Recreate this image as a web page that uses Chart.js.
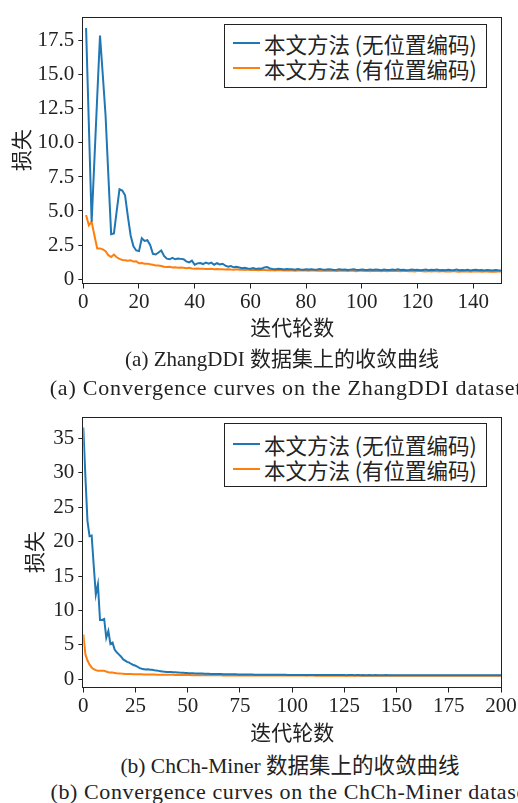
<!DOCTYPE html>
<html>
<head>
<meta charset="utf-8">
<script src="https://cdn.jsdelivr.net/npm/chart.js@4.4.1/dist/chart.umd.min.js"></script>
<style>
  html, body { margin: 0; padding: 0; background: #fff; }
  body { width: 518px; height: 803px; position: relative; overflow: hidden; }
  canvas { position: absolute; left: 0; }
  .legend { position: absolute; border: 1px solid #222; background: #fff; box-sizing: border-box; }
  .row { position: absolute; left: 0; display: flex; align-items: center; height: 24px;
         font-family: 'Noto Sans CJK SC', sans-serif; font-size: 21.5px; color: #222; white-space: nowrap; }
  .row span.swatch { display: inline-block; width: 27px; height: 2px; margin-left: 8px; margin-right: 4px; }
  .cap { position: absolute; transform: translate(-50%, -50%); white-space: nowrap;
         font-family: 'Liberation Serif', 'Noto Sans CJK SC', serif; font-size: 21px; color: #222; }
  .cap.en { font-size: 22px; letter-spacing: 0.8px; }
</style>
</head>
<body>
<canvas id="chartA" width="518" height="345" style="top:0px"></canvas>
<canvas id="chartB" width="518" height="345" style="top:400px"></canvas>

<div class="legend" style="left:224px; top:24px; width:263px; height:64px">
  <div class="row" style="top:6px"><span class="swatch" style="background:#1f77b4"></span>本文方法 (无位置编码)</div>
  <div class="row" style="top:31px"><span class="swatch" style="background:#ff7f0e"></span>本文方法 (有位置编码)</div>
</div>
<div class="legend" style="left:224px; top:423px; width:263px; height:64px">
  <div class="row" style="top:8px"><span class="swatch" style="background:#1f77b4"></span>本文方法 (无位置编码)</div>
  <div class="row" style="top:33px"><span class="swatch" style="background:#ff7f0e"></span>本文方法 (有位置编码)</div>
</div>

<div class="cap" style="left:282px; top:357px">(a) ZhangDDI 数据集上的收敛曲线</div>
<div class="cap en" style="left:286px; top:388px">(a) Convergence curves on the ZhangDDI dataset</div>
<div class="cap" style="left:290px; top:763px; font-size:21.5px">(b) ChCh-Miner 数据集上的收敛曲线</div>
<div class="cap en" style="left:292px; top:792px; letter-spacing:0.6px">(b) Convergence curves on the ChCh-Miner dataset</div>

<script>
// ---- data ----
const seriesNames = ['本文方法 (无位置编码)', '本文方法 (有位置编码)'];
const xTitle = '迭代轮数';
const yTitle = '损失';

// ZhangDDI, epochs 1..150
const zhangStart = 1;
const zhangNoPos = [
  18.45, 11.3, 4.2, 8.8, 13.4, 17.9, 15.0, 12.0, 7.6, 3.3,
  3.35, 5.0, 6.6, 6.5, 6.15, 4.6, 3.2, 2.4, 2.1, 2.05,
  3.0, 2.8, 2.85, 2.5, 1.85, 1.8, 1.95, 2.1, 1.7, 1.5,
  1.45, 1.55, 1.45, 1.5, 1.48, 1.45, 1.3, 1.22, 1.35, 1.05,
  1.15, 1.18, 1.1, 1.2, 1.12, 1.2, 1.05, 1.16, 1.07, 1.12,
  0.98, 0.9, 0.95, 0.86, 0.9, 0.85, 0.8, 0.83, 0.78, 0.76,
  0.8, 0.74, 0.78, 0.76, 0.85, 0.88, 0.78, 0.74, 0.72, 0.76,
  0.73, 0.7, 0.74, 0.71, 0.72, 0.69, 0.73, 0.7, 0.68, 0.72,
  0.7, 0.71, 0.68, 0.7, 0.73, 0.69, 0.68, 0.71, 0.7, 0.67,
  0.69, 0.72, 0.68, 0.7, 0.67, 0.69, 0.71, 0.68, 0.66, 0.7,
  0.68, 0.67, 0.7, 0.66, 0.69, 0.68, 0.65, 0.7, 0.67, 0.66,
  0.69, 0.67, 0.71, 0.66, 0.68, 0.65, 0.67, 0.7, 0.66, 0.68,
  0.65, 0.67, 0.69, 0.64, 0.68, 0.66, 0.7, 0.65, 0.67, 0.64,
  0.68, 0.66, 0.65, 0.69, 0.64, 0.67, 0.65, 0.68, 0.63, 0.66,
  0.68, 0.64, 0.66, 0.63, 0.67, 0.65, 0.62, 0.66, 0.64, 0.63
];
const zhangPos = [
  4.7, 3.95, 4.2, 3.2, 2.25, 2.25, 2.18, 2.05, 1.75, 1.62,
  1.8, 1.6, 1.48, 1.4, 1.38, 1.35, 1.38, 1.28, 1.3, 1.16,
  1.18, 1.12, 1.13, 1.08, 1.05, 1.0, 1.0, 0.96, 0.9, 0.88,
  0.9, 0.85, 0.86, 0.82, 0.84, 0.83, 0.8, 0.82, 0.78, 0.76,
  0.78, 0.75, 0.76, 0.74, 0.73, 0.75, 0.72, 0.74, 0.71, 0.72,
  0.7, 0.72, 0.7, 0.69, 0.71, 0.68, 0.7, 0.67, 0.69, 0.66,
  0.68, 0.67, 0.65, 0.68, 0.66, 0.64, 0.67, 0.65, 0.63, 0.66,
  0.64, 0.62, 0.65, 0.63, 0.64, 0.61, 0.63, 0.65, 0.62, 0.63,
  0.61, 0.64, 0.62, 0.6, 0.63, 0.61, 0.62, 0.6, 0.63, 0.61,
  0.59, 0.62, 0.6, 0.61, 0.59, 0.62, 0.6, 0.58, 0.61, 0.6,
  0.59, 0.61, 0.58, 0.6, 0.59, 0.61, 0.58, 0.6, 0.57, 0.59,
  0.6, 0.58, 0.59, 0.57, 0.6, 0.58, 0.57, 0.59, 0.56, 0.58,
  0.59, 0.57, 0.55, 0.58, 0.56, 0.59, 0.57, 0.55, 0.58, 0.56,
  0.57, 0.55, 0.58, 0.56, 0.54, 0.57, 0.55, 0.57, 0.54, 0.56,
  0.55, 0.57, 0.54, 0.56, 0.55, 0.53, 0.56, 0.54, 0.55, 0.56
];
const zhangXTicks = [0, 20, 40, 60, 80, 100, 120, 140];
const zhangYTicks = [0, 2.5, 5, 7.5, 10, 12.5, 15, 17.5];

// ChCh-Miner, epochs 0..200
const chchStart = 0;
const chchNoPos = [
  36.6, 29.5, 23.0, 20.8, 20.9, 16.5, 12.3, 13.8, 8.6, 8.6,
  8.75, 6.0, 7.0, 5.1, 5.3, 4.3, 3.9, 3.6, 3.3, 2.9,
  2.7, 2.5, 2.4, 2.2, 2.05, 1.95, 1.8, 1.6, 1.5, 1.45,
  1.4, 1.42, 1.35, 1.36, 1.3, 1.25, 1.2, 1.15, 1.1, 1.08,
  1.05, 1.04, 1.02, 1.0, 0.99, 0.97, 0.95, 0.94, 0.92, 0.9,
  0.88, 0.87, 0.86, 0.84, 0.83, 0.82, 0.81, 0.8, 0.79, 0.78,
  0.77, 0.76, 0.75, 0.75, 0.74, 0.73, 0.73, 0.72, 0.72, 0.71,
  0.7, 0.7, 0.69, 0.69, 0.68, 0.68, 0.67, 0.67, 0.67, 0.66,
  0.66, 0.66, 0.65, 0.65, 0.65, 0.64, 0.64, 0.64, 0.64, 0.63,
  0.63, 0.63, 0.63, 0.62, 0.62, 0.62, 0.62, 0.62, 0.61, 0.61,
  0.61, 0.61, 0.61, 0.61, 0.6, 0.61, 0.6, 0.6, 0.6, 0.6,
  0.6, 0.6, 0.6, 0.59, 0.6, 0.6, 0.59, 0.6, 0.59, 0.59,
  0.59, 0.6, 0.59, 0.59, 0.59, 0.59, 0.58, 0.59, 0.59, 0.59,
  0.58, 0.59, 0.59, 0.58, 0.59, 0.58, 0.58, 0.59, 0.58, 0.58,
  0.59, 0.58, 0.58, 0.58, 0.58, 0.59, 0.58, 0.58, 0.58, 0.57,
  0.58, 0.58, 0.58, 0.57, 0.58, 0.58, 0.58, 0.57, 0.58, 0.58,
  0.57, 0.58, 0.58, 0.57, 0.58, 0.57, 0.58, 0.57, 0.58, 0.57,
  0.57, 0.58, 0.57, 0.57, 0.58, 0.57, 0.57, 0.57, 0.58, 0.57,
  0.57, 0.57, 0.57, 0.58, 0.57, 0.57, 0.57, 0.56, 0.57, 0.57,
  0.57, 0.57, 0.56, 0.57, 0.57, 0.57, 0.56, 0.57, 0.57, 0.56,
  0.57
];
const chchPos = [
  6.5, 3.6, 2.7, 2.1, 1.7, 1.45, 1.3, 1.22, 1.2, 1.2,
  1.22, 1.1, 1.0, 0.98, 0.95, 0.9, 0.85, 0.83, 0.8, 0.78,
  0.76, 0.75, 0.74, 0.73, 0.72, 0.71, 0.7, 0.7, 0.69, 0.68,
  0.68, 0.67, 0.67, 0.66, 0.66, 0.65, 0.65, 0.64, 0.64, 0.63,
  0.63, 0.62, 0.62, 0.62, 0.61, 0.61, 0.6, 0.6, 0.6, 0.59,
  0.59, 0.59, 0.58, 0.58, 0.58, 0.57, 0.57, 0.57, 0.56, 0.56,
  0.56, 0.56, 0.55, 0.55, 0.55, 0.55, 0.55, 0.54, 0.54, 0.54,
  0.54, 0.54, 0.54, 0.53, 0.53, 0.53, 0.53, 0.53, 0.53, 0.53,
  0.53, 0.52, 0.52, 0.52, 0.52, 0.52, 0.52, 0.52, 0.52, 0.52,
  0.52, 0.52, 0.51, 0.52, 0.51, 0.51, 0.52, 0.51, 0.51, 0.51,
  0.51, 0.51, 0.51, 0.51, 0.51, 0.51, 0.51, 0.5, 0.51, 0.51,
  0.51, 0.5, 0.51, 0.5, 0.51, 0.5, 0.5, 0.51, 0.5, 0.5,
  0.5, 0.5, 0.5, 0.51, 0.5, 0.5, 0.5, 0.5, 0.5, 0.5,
  0.5, 0.5, 0.49, 0.5, 0.5, 0.5, 0.5, 0.49, 0.5, 0.5,
  0.5, 0.49, 0.5, 0.5, 0.49, 0.5, 0.49, 0.5, 0.49, 0.5,
  0.49, 0.5, 0.49, 0.49, 0.5, 0.49, 0.49, 0.49, 0.5, 0.49,
  0.49, 0.49, 0.49, 0.49, 0.49, 0.5, 0.49, 0.49, 0.49, 0.49,
  0.49, 0.49, 0.49, 0.48, 0.49, 0.49, 0.49, 0.49, 0.48, 0.49,
  0.49, 0.49, 0.48, 0.49, 0.49, 0.48, 0.49, 0.49, 0.48, 0.49,
  0.48, 0.49, 0.49, 0.48, 0.49, 0.48, 0.49, 0.48, 0.48, 0.49,
  0.48
];
const chchXTicks = [0, 25, 50, 75, 100, 125, 150, 175, 200];
const chchYTicks = [0, 5, 10, 15, 20, 25, 30, 35];

const colors = ['#1f77b4', '#ff7f0e'];
const ink = '#222';
const serif = '"Liberation Serif", serif';
const cjk = '"Noto Sans CJK SC", sans-serif';

function toPoints(values, start) {
  return values.map((v, i) => ({ x: start + i, y: v }));
}

// matplotlib-like frame round the plot area
const framePlugin = {
  id: 'frame',
  afterDraw(chart) {
    const a = chart.chartArea;
    const ctx = chart.ctx;
    ctx.save();
    ctx.strokeStyle = ink;
    ctx.lineWidth = 1;
    ctx.strokeRect(Math.round(a.left) - 0.5, Math.round(a.top) + 0.5,
                   Math.round(a.right - a.left) + 1, Math.round(a.bottom - a.top) - 1);
    ctx.restore();
  }
};

function makeChart(id, cfg) {
  const datasets = [cfg.noPos, cfg.pos].map((vals, k) => ({
    label: seriesNames[k],
    data: toPoints(vals, cfg.start),
    borderColor: colors[k],
    borderWidth: 2,
    pointRadius: 0,
    tension: 0,
    fill: false
  }));

  return new Chart(document.getElementById(id), {
    type: 'line',
    data: { datasets },
    plugins: [framePlugin],
    options: {
      responsive: false,
      animation: false,
      devicePixelRatio: 1,
      layout: { padding: { top: cfg.top, right: 17, left: 0, bottom: 0 } },
      plugins: { legend: { display: false }, tooltip: { enabled: false } },
      scales: {
        x: {
          type: 'linear',
          min: cfg.xMin, max: cfg.xMax,
          afterBuildTicks: s => { s.ticks = cfg.xTicks.map(v => ({ value: v })); },
          afterFit: s => { s.height = cfg.xHeight; },
          border: { display: false },
          grid: { drawOnChartArea: false, drawTicks: true, tickLength: 5, color: ink },
          ticks: { font: { family: serif, size: 21 }, color: ink, padding: 1, maxRotation: 0, autoSkip: false },
          title: { display: true, text: xTitle, color: ink,
                   font: { family: cjk, size: 21, lineHeight: 1.2 },
                   padding: { top: 0, bottom: cfg.xTitlePad } }
        },
        y: {
          min: cfg.yMin, max: cfg.yMax,
          afterBuildTicks: s => { s.ticks = cfg.yTicks.map(v => ({ value: v })); },
          afterFit: s => { s.width = 83.3; },
          border: { display: false },
          grid: { drawOnChartArea: false, drawTicks: true, tickLength: 5, color: ink },
          ticks: { font: { family: serif, size: 21 }, color: ink, padding: 4,
                   callback: cfg.yFormat },
          title: { display: true, text: yTitle, color: ink,
                   font: { family: cjk, size: 21, lineHeight: 1.2 },
                   padding: { top: cfg.yTitlePad, bottom: 0 } }
        }
      }
    }
  });
}

makeChart('chartA', {
  noPos: zhangNoPos, pos: zhangPos, start: zhangStart,
  xMin: 0, xMax: 150, yMin: -0.33, yMax: 19.29,
  xTicks: zhangXTicks, yTicks: zhangYTicks,
  yFormat: v => (v === 0 ? '0' : v.toFixed(1)),
  top: 12.7, xHeight: 61.5, xTitlePad: 5, yTitlePad: 8
});

makeChart('chartB', {
  noPos: chchNoPos, pos: chchPos, start: chchStart,
  xMin: 0, xMax: 200, yMin: -1.22, yMax: 38.2,
  xTicks: chchXTicks, yTicks: chchYTicks,
  yFormat: v => String(v),
  top: 15.7, xHeight: 57.5, xTitlePad: 0, yTitlePad: 21
});
</script>
</body>
</html>
